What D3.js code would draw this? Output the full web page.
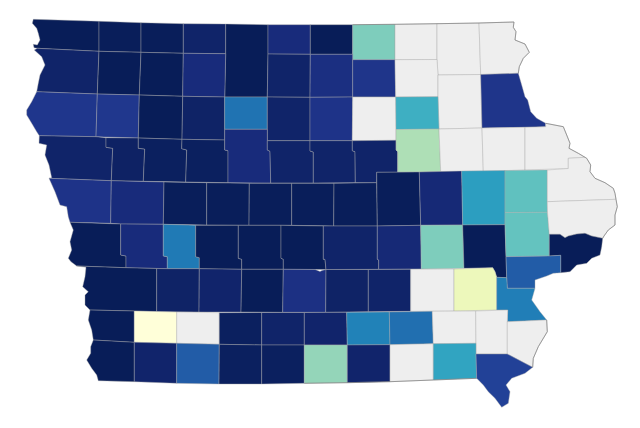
<!DOCTYPE html>
<html><head><meta charset="utf-8">
<script src="https://cdn.jsdelivr.net/npm/d3@7"></script>
<style>html,body{margin:0;padding:0;background:#fff}svg{display:block}</style>
</head><body><svg id="map" width="640" height="428"></svg>
<script>
const countyNames = ["Lyon","Osceola","Dickinson","Emmet","Kossuth","Winnebago","Worth","Mitchell","Howard","Winneshiek","Allamakee",
"Sioux","O'Brien","Clay","Palo Alto","Hancock","Cerro Gordo","Floyd","Chickasaw","Fayette","Clayton",
"Plymouth","Cherokee","Buena Vista","Pocahontas","Humboldt","Wright","Franklin","Butler","Bremer",
"Woodbury","Ida","Sac","Calhoun","Webster","Hamilton","Hardin","Grundy","Black Hawk","Buchanan","Delaware","Dubuque",
"Monona","Crawford","Carroll","Greene","Boone","Story","Marshall","Tama","Benton","Linn","Jones","Jackson",
"Harrison","Shelby","Audubon","Guthrie","Dallas","Polk","Jasper","Poweshiek","Iowa","Johnson","Cedar","Clinton","Scott",
"Pottawattamie","Cass","Adair","Madison","Warren","Marion","Mahaska","Keokuk","Washington","Muscatine","Louisa",
"Mills","Montgomery","Adams","Union","Clarke","Lucas","Monroe","Wapello","Jefferson","Henry","Des Moines",
"Fremont","Page","Taylor","Ringgold","Decatur","Wayne","Appanoose","Davis","Van Buren","Lee"];
const countyValues = [1,.995,.995,.965,1,.925,1,.38,null,null,null,
.965,1,1,.925,.965,.91,.885,null,null,.885,
.88,.875,1,.97,.70,.965,.89,null,.52,
.965,.975,.985,.985,.925,.965,.965,.965,.29,null,null,null,
.89,.925,.995,.995,.995,.995,.995,.995,.935,.58,.44,null,
1,.925,.68,1,1,1,.965,.935,.38,1,.43,null,1,
1,.97,.96,1,.905,.97,.965,null,.11,.76,.67,
1,0,null,.985,.965,.96,.66,.71,null,null,null,
1,.96,.76,.985,.985,.34,.96,null,.56,.84];
const countyRings = [
[[33.3,19.3],[99,21.3],[99,51.3],[37.3,48.3],[34,47.7],[33.3,44.3],[37.3,45],[40,40],[38.3,33.3],[36.7,28.3],[32.3,23.3]],
[[99,21.3],[141,22.7],[141,52.3],[99,51.3]],
[[141,22.7],[183.3,23.7],[183.3,53.3],[141,52.3]],
[[183.3,23.7],[225.7,24],[225.7,53.7],[183.3,53.3]],
[[225.7,24],[268,24.7],[268,54],[267.3,97],[224.7,97],[225.7,53.7]],
[[268,24.7],[310.3,24.7],[310.3,54.3],[268,54]],
[[310.3,24.7],[352.7,24.7],[352.7,54.3],[310.3,54.3]],
[[352.7,24.7],[395,24.3],[395,59.7],[352.7,59.7]],
[[395,24.3],[437,23.7],[437,59.5],[395,59.7]],
[[437,23.7],[479,23],[480.7,74.5],[438,75],[437,59.5]],
[[479,23],[514,22],[513.3,27.3],[516,31.7],[515,40],[525,44],[529.3,52.3],[523.3,58.3],[519.3,66.7],[518.3,73.3],[480.7,74.5]],
[[37.3,48.3],[99,51.3],[97.3,94],[36.7,91.7],[38.3,83.3],[40,75],[45,65],[41.7,56.7],[34.3,50]],
[[99,51.3],[141,52.3],[139.3,95],[97.3,94]],
[[141,52.3],[183.3,53.3],[182.7,96.3],[139.3,95]],
[[183.3,53.3],[225.7,53.7],[224.7,97],[182.7,96.3]],
[[268,54],[310.3,54.3],[310,97.3],[267.3,97]],
[[310.3,54.3],[352.7,54.3],[352.7,97],[310,97.3]],
[[352.7,59.7],[395,59.7],[395.7,97],[352.7,97]],
[[395,59.7],[437,59.5],[438,75],[438,96.7],[395.7,97]],
[[438,75],[480.7,74.5],[482,128],[439,129],[438,96.7]],
[[480.7,74.5],[518.3,73.3],[521.7,85],[525,96.7],[527.7,100],[530.7,111.7],[536.7,118.3],[545.7,123.3],[545.7,126.7],[525,127.3],[482,128]],
[[36.7,91.7],[97.3,94],[96,136.7],[39.3,135.7],[36.7,131.7],[31.7,123.3],[26.7,115],[26.7,110],[31.7,101.7]],
[[97.3,94],[139.3,95],[138.3,138],[96,136.7]],
[[139.3,95],[182.7,96.3],[182,139.3],[138.3,138]],
[[182.7,96.3],[224.7,97],[224.7,140],[182,139.3]],
[[224.7,97],[267.3,97],[267.3,129.3],[224.7,129.3]],
[[267.3,97],[310,97.3],[310,140.7],[267.3,140.7]],
[[310,97.3],[352.7,97],[352.3,140.7],[310,140.7]],
[[352.7,97],[395.7,97],[396,129.5],[396,140.3],[352.3,140.7]],
[[395.7,97],[438,96.7],[439,129],[396,129.5]],
[[39.3,135.7],[96,136.7],[106,137.7],[106,147.3],[112.7,148.3],[111.3,180.7],[49,178.3],[51.7,177.7],[49,165],[45,155],[46.7,145],[39,143.3]],
[[106,137.7],[138.3,138],[138.3,148.3],[144.7,149],[143.3,181.3],[111.3,180.7],[112.7,148.3],[106,147.3]],
[[138.3,138],[182,139.3],[181.7,148.7],[186.7,150],[185.7,182],[143.3,181.3],[144.7,149],[138.3,148.3]],
[[182,139.3],[224.7,140],[224.7,150],[228,150.7],[228,182.7],[185.7,182],[186.7,150],[181.7,148.7]],
[[224.7,129.3],[267.3,129.3],[267.3,150],[270,151.3],[270.7,183],[228,182.7],[228,150.7],[224.7,150]],
[[267.3,140.7],[310,140.7],[310,151],[313.3,152],[313.3,183],[270.7,183],[270,151.3],[267.3,150]],
[[310,140.7],[352.3,140.7],[352.3,150.7],[355,151.7],[355.3,182.7],[313.3,183],[313.3,152],[310,151]],
[[352.3,140.7],[396,140.3],[396,150],[397.7,151.7],[397.7,172.3],[376.7,172.3],[376.7,182.7],[355.3,182.7],[355,151.7],[352.3,150.7]],
[[396,129.5],[439,129],[440.7,171.7],[397.7,172.3],[397.7,151.7],[396,150]],
[[439,129],[482,128],[483.3,171.5],[440.7,171.7]],
[[482,128],[525,127.3],[525,170],[483.3,171.5]],
[[525,127.3],[545.7,126.7],[545.7,123.3],[563.3,126.7],[566.7,135],[570,143.3],[569,148.3],[578.3,153.3],[585,157.3],[568.3,158.3],[568.3,168.5],[525,170]],
[[49,178.3],[111.3,180.7],[110.7,223.3],[70,222.3],[68.3,216.7],[66.7,206.7],[60,205],[55,191.7]],
[[111.3,180.7],[164,182],[163.3,224.3],[120.7,224],[110.7,223.3]],
[[164,182],[206.7,182.7],[206.7,225],[163.3,224.3]],
[[206.7,182.7],[249.3,183.3],[249,225.3],[206.7,225]],
[[249.3,183.3],[291.7,183.3],[291.7,225.3],[249,225.3]],
[[291.7,183.3],[334,183.3],[333.7,226],[291.7,225.3]],
[[334,183.3],[376.7,182.7],[377.3,226],[333.7,226]],
[[376.7,172.3],[419.3,172],[420.7,225.3],[377.3,226]],
[[419.3,172],[461.7,171],[462.7,225],[420.7,225.3]],
[[461.7,171],[505,170.5],[505,224.7],[462.7,225]],
[[505,170.5],[547.3,170],[547.3,201.7],[547.5,212.3],[505,212.5]],
[[547.3,170],[568.3,168.5],[568.3,158.3],[585,157.3],[586.7,158.3],[590.7,165],[590,171.7],[595,178.3],[605,182.7],[613.3,188.3],[615,193.3],[616,199.3],[547.3,201.7]],
[[70,222.3],[120.7,224],[120.7,255],[126,256],[126,267.7],[76.7,266],[71,261.7],[68.3,258.3],[71.7,250],[70,241.7],[73.3,230]],
[[120.7,224],[163.3,224.3],[163.3,256],[167.3,256.7],[167.3,268.7],[126,267.7],[126,256],[120.7,255]],
[[163.3,224.3],[195.7,225.3],[195.7,256.7],[199.3,257.7],[199.3,268.7],[167.3,268.7],[167.3,256.7],[163.3,256]],
[[195.7,225.3],[238.3,225.3],[238.3,258.3],[241.7,259.3],[241.7,269.3],[199.3,268.7],[199.3,257.7],[195.7,256.7]],
[[238.3,225.3],[281,225.3],[281,258.3],[283.3,259.3],[283.3,269.3],[241.7,269.3],[241.7,259.3],[238.3,258.3]],
[[281,225.3],[323.3,226],[323.3,259.3],[325,259.3],[326,269.5],[283.3,269.3],[283.3,259.3],[281,258.3]],
[[323.3,226],[377.3,226],[377.3,259.3],[378.7,260],[378.7,269.3],[326,269.5],[325,259.3],[323.3,259.3]],
[[377.3,226],[420.7,225.3],[421.3,269],[378.7,269.3],[378.7,260],[377.3,259.3]],
[[420.7,225.3],[462.7,225],[464,268.3],[421.3,269]],
[[462.7,225],[505,224.7],[506,256.7],[506.7,277.7],[496.7,277.3],[495,271.7],[492.7,267.7],[464,268.3]],
[[505,212.5],[547.5,212.3],[549.3,234.3],[549.3,256],[506,256.7],[505,224.7]],
[[547.3,201.7],[616,199.3],[617.3,206.7],[615,215],[615,225],[608.3,230],[604,236],[602.7,238.3],[591.7,236],[585,233.3],[576.7,234],[568.3,236],[565,237.7],[560,234.3],[549.3,234.3],[547.5,212.3]],
[[549.3,234.3],[560,234.3],[565,237.7],[568.3,236],[576.7,234],[585,233.3],[591.7,236],[602.7,238.3],[601.7,246.7],[600,255],[591.7,258.3],[586.7,263.3],[576.7,265],[570,271.7],[560.7,272.7],[560.7,255.3],[549.3,256]],
[[76.7,266],[126,267.7],[156.7,268.5],[156.7,311.7],[134.3,311],[90,310],[85,305],[85,295],[88.3,291.7],[82.7,286.7],[85,276.7],[86,267.3]],
[[156.7,268.5],[167.3,268.7],[199.3,268.7],[199,312],[156.7,311.7]],
[[199.3,268.7],[241.7,269.3],[241,312],[199,312]],
[[241.7,269.3],[283.3,269.3],[282.7,312.3],[241,312]],
[[283.3,269.3],[315,269.5],[320,271.5],[322,270.5],[326,269.5],[325.7,312.3],[282.7,312.3]],
[[326,269.5],[368.3,269.5],[368.3,311.7],[325.7,312.3]],
[[368.3,269.5],[410.7,269.3],[410.7,311.3],[368.3,311.7]],
[[410.7,269.3],[454,269],[454,311],[410.7,311.3]],
[[454,269],[492.7,267.7],[495,271.7],[496.7,277.3],[496.7,310],[454,311]],
[[506,256.7],[549.3,256],[560.7,255.3],[560.7,272.7],[553.3,273.3],[546.7,276],[535,280],[535,288.3],[507.3,288.3],[506.7,277.7]],
[[496.7,277.3],[506.7,277.7],[507.3,288.3],[535,288.3],[531.7,300],[540,311.7],[546.7,320],[507.3,321.7],[507.7,310],[496.7,310]],
[[90,310],[134.3,311],[134.3,342.3],[93.3,340],[91.7,330],[88.3,320]],
[[134.3,311],[176.7,312],[176.7,343.3],[134.3,342.3]],
[[176.7,312],[219.3,312.7],[219.3,344.3],[176.7,343.3]],
[[219.3,312.7],[261.7,312.5],[261.7,345],[219.3,344.3]],
[[261.7,312.5],[304.3,312.5],[304.3,345],[261.7,345]],
[[304.3,312.5],[346.7,312.3],[347.3,345],[304.3,345]],
[[346.7,312.3],[389.3,312],[390,344.7],[347.3,345]],
[[389.3,312],[432.3,311.3],[433.3,343.7],[390,344.7]],
[[432.3,311.3],[475.7,311],[476,343.3],[433.3,343.7]],
[[475.7,311],[507.7,310],[507.3,321.7],[507.3,354],[476,354],[476,343.3]],
[[507.3,321.7],[546.7,320],[547.3,331.7],[538.3,346.7],[533.3,358.3],[532.7,367.3],[507.3,354]],
[[93.3,340],[134.3,342.3],[134.3,381.7],[98.3,380.7],[96.7,375],[91.7,368.3],[86.7,360],[90.7,353.3],[90.7,346.7]],
[[134.3,342.3],[176.7,343.3],[176.7,383.3],[134.3,381.7]],
[[176.7,343.3],[219.3,344.3],[219,384],[176.7,383.3]],
[[219.3,344.3],[261.7,345],[261.7,384],[219,384]],
[[261.7,345],[304.3,345],[304.3,383.3],[261.7,384]],
[[304.3,345],[347.3,345],[347.3,382.7],[304.3,383.3]],
[[347.3,345],[390,344.7],[390,381.7],[347.3,382.7]],
[[390,344.7],[433.3,343.7],[433.3,380],[390,381.7]],
[[433.3,343.7],[476,343.3],[476,354],[476.7,378.3],[433.3,380]],
[[476,354],[507.3,354],[532.7,367.3],[525,373.3],[511.7,378.3],[506,385],[510,391.7],[508.3,403.3],[501.7,407.3],[495,398.3],[488.3,391.7],[483.3,385],[476.7,378.3]]
];
const stateEdges = [
[[352.7,24.7],[395,24.3],[437,23.7],[479,23],[514,22],[513.3,27.3],[516,31.7],[515,40],[525,44],[529.3,52.3],[523.3,58.3],[519.3,66.7],[518.3,73.3]],
[[545.7,123.3],[563.3,126.7],[566.7,135],[570,143.3],[569,148.3],[578.3,153.3],[585,157.3],[586.7,158.3],[590.7,165],[590,171.7],[595,178.3],[605,182.7],[613.3,188.3],[615,193.3],[616,199.3],[617.3,206.7],[615,215],[615,225],[608.3,230],[604,236],[602.7,238.3]],
[[546.7,320],[547.3,331.7],[538.3,346.7],[533.3,358.3],[532.7,367.3]],
[[304.3,383.3],[347.3,382.7],[390,381.7],[433.3,380],[476.7,378.3]]
];
const noData = "#eeeeee";
const color = d3.scaleSequential(d3.interpolateYlGnBu).domain([0, 1]);
const features = countyNames.map((name, i) => ({
  type: "Feature",
  properties: { name, value: countyValues[i] },
  geometry: { type: "Polygon", coordinates: [[...countyRings[i], countyRings[i][0]]] }
}));
const path = d3.geoPath(d3.geoIdentity());
const svg = d3.select("#map");
svg.selectAll("path.county").data(features).join("path")
  .attr("class", "county")
  .attr("d", path)
  .attr("fill", d => d.properties.value === null ? noData : color(d.properties.value))
  .attr("stroke", "#a8a8a8")
  .attr("stroke-width", 0.5)
  .attr("stroke-opacity", 0.8)
  .attr("stroke-linejoin", "round")
  .append("title").text(d => d.properties.name);
svg.append("path")
  .datum({ type: "MultiLineString", coordinates: stateEdges })
  .attr("d", path)
  .attr("fill", "none")
  .attr("stroke", "#7d7d7d")
  .attr("stroke-width", 0.7)
  .attr("stroke-linejoin", "round");
</script></body></html>
